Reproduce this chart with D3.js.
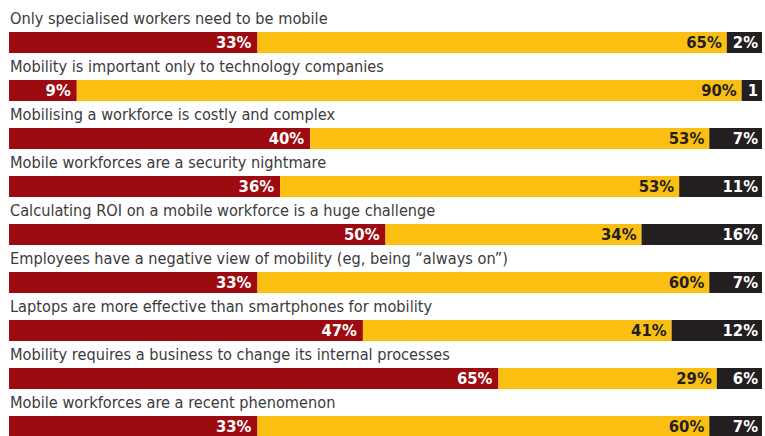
<!DOCTYPE html>
<html>
<head>
<meta charset="utf-8">
<script src="https://cdn.jsdelivr.net/npm/d3@7"></script>
<style>
  html, body { margin: 0; padding: 0; background: #fff; }
  svg { display: block; }
  .cat { font-family: "Liberation Sans Narrow", "DejaVu Sans Condensed", "Arial Narrow", sans-serif; font-size: 16.2px; fill: #3b3b3b; }
  .val { font-family: "Liberation Sans Narrow", "DejaVu Sans Condensed", "Arial Narrow", sans-serif; font-size: 16.5px; font-weight: bold; }
</style>
</head>
<body>
<svg id="chart" width="765" height="436"></svg>
<script>
// Survey statements and the share of answers for each (agree / disagree / don't know)
const statements = [
  "Only specialised workers need to be mobile",
  "Mobility is important only to technology companies",
  "Mobilising a workforce is costly and complex",
  "Mobile workforces are a security nightmare",
  "Calculating ROI on a mobile workforce is a huge challenge",
  "Employees have a negative view of mobility (eg, being \u201calways on\u201d)",
  "Laptops are more effective than smartphones for mobility",
  "Mobility requires a business to change its internal processes",
  "Mobile workforces are a recent phenomenon"
];
const agree    = [33, 9, 40, 36, 50, 33, 47, 65, 33];
const disagree = [65, 90, 53, 53, 34, 60, 41, 29, 60];
const dontKnow = [2, 1, 7, 11, 16, 7, 12, 6, 7];
// labels printed on the segments
const agreeLabels    = agree.map(v => v + "%");
const disagreeLabels = disagree.map(v => v + "%");
const dontKnowLabels = ["2%", "1", "7%", "11%", "16%", "7%", "12%", "6%", "7%"];

const colors = { agree: "#9d0a0f", disagree: "#fbbf12", dontKnow: "#231f20" };

const svg = d3.select("#chart");
const left = 9, right = 762;
const x = d3.scaleLinear().domain([0, 100]).range([left, right]);
const y = d3.scaleBand().domain(d3.range(statements.length)).range([32, 32 + 48 * statements.length]).paddingInner(0).paddingOuter(0);
const barH = 21;

const rows = svg.selectAll("g.row").data(statements).join("g").attr("class", "row")
  .attr("transform", (d, i) => `translate(0,${y(i)})`);

rows.append("text").attr("class", "cat")
  .attr("x", left + 1).attr("y", -8).text(d => d);

rows.each(function (d, i) {
  const g = d3.select(this);
  // measure the don't-know label so very small segments still fit it
  const probe = g.append("text").attr("class", "val").text(dontKnowLabels[i]);
  const lw = probe.node().getComputedTextLength();
  probe.remove();

  const x0 = x(0);
  const x1 = x(agree[i]);
  const dkWidth = Math.max(x(dontKnow[i]) - x(0), lw + 10);
  const x3 = x(100);
  const x2 = x3 - dkWidth;

  const segs = [
    { x0: x0, x1: x1, fill: colors.agree, text: agreeLabels[i], tc: "#ffffff", pad: 6 },
    { x0: x1, x1: x2, fill: colors.disagree, text: disagreeLabels[i], tc: "#231f20", pad: 5 },
    { x0: x2, x1: x3, fill: colors.dontKnow, text: dontKnowLabels[i], tc: "#ffffff", pad: 4 }
  ];
  g.selectAll("rect").data(segs).join("rect")
    .attr("x", s => s.x0).attr("y", 0)
    .attr("width", s => s.x1 - s.x0).attr("height", barH)
    .attr("fill", s => s.fill);
  g.selectAll("text.val").data(segs).join("text").attr("class", "val")
    .attr("x", s => s.x1 - s.pad).attr("y", 16)
    .attr("text-anchor", "end").attr("fill", s => s.tc)
    .text(s => s.text);
});
</script>
</body>
</html>
